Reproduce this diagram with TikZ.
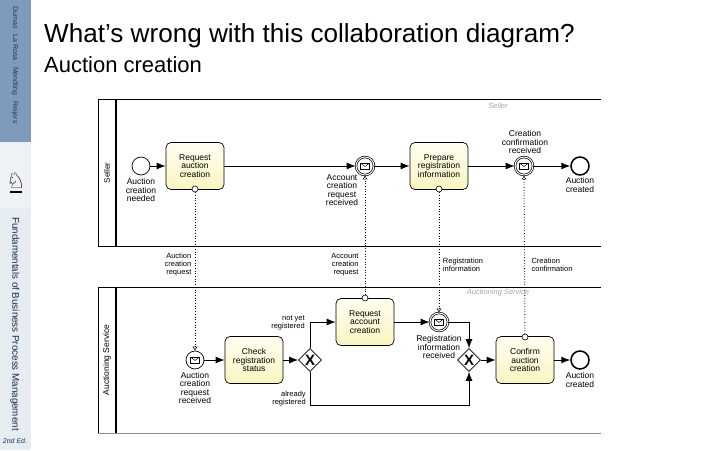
\documentclass[tikz,border=0pt]{standalone}
\usepackage{fontspec}
\setmainfont{Liberation Sans}
\newfontfamily\symfont{DejaVu Sans}
\usetikzlibrary{positioning,arrows.meta,shapes.geometric}
\definecolor{sidebluecol}{HTML}{7F9ABB}
\definecolor{sidepalecol}{HTML}{EEF2F5}
\definecolor{sidelowcol}{HTML}{E6ECF0}
\definecolor{sideinkcol}{HTML}{1F3A5F}
\definecolor{tasktopcol}{HTML}{FFFEF0}
\definecolor{tasklowcol}{HTML}{F8F5C2}
\tikzset{
  lbl/.style={font=\fontsize{8.5}{8.5}\selectfont,align=center,inner sep=0pt},
  smalllbl/.style={font=\fontsize{7.5}{8}\selectfont,align=center,inner sep=0pt},
  greylbl/.style={font=\fontsize{7.5}{8}\selectfont\itshape,text=black!35,inner sep=0pt},
  taskbox/.style={draw,line width=0.7pt,rounded corners=5pt,top color=tasktopcol,bottom color=tasklowcol,minimum width=58pt,minimum height=47pt,inner sep=0pt,align=center,font=\fontsize{8.5}{8.5}\selectfont},
  eventbox/.style={draw,circle,line width=0.7pt,minimum size=18pt,inner sep=0pt,fill=white},
  ringbox/.style={eventbox,double,double distance=1pt},
  endbox/.style={draw,circle,line width=1.5pt,minimum size=18pt,inner sep=0pt,fill=white},
  gatewaybox/.style={draw,diamond,line width=0.6pt,minimum size=23pt,inner sep=0pt,fill=white,font=\fontsize{15}{15}\selectfont\bfseries},
  msgdot/.style={draw,circle,line width=0.6pt,minimum size=6pt,inner sep=0pt,fill=white},
  flow/.style={line width=1pt,-{Latex[length=9pt,width=7pt]}},
  msgflow/.style={line width=0.7pt,dotted,-{Latex[open,length=4pt,width=5pt,line width=0.5pt,sep=0pt]}},
  envmark/.pic={\draw[line width=0.5pt] (-4.5,-3) rectangle (4.5,3); \draw[line width=0.5pt] (-4.5,-3)--(0,0.5)--(4.5,-3);},
}
\begin{document}
\begin{tikzpicture}[x=1pt,y=-1pt]
  \useasboundingbox (0,0) rectangle (720,450);

  % side band
  \fill[sidelowcol] (0,0) rectangle (31,450);
  \fill[sidepalecol] (0,142) rectangle (31,208);
  \fill[sidebluecol] (0,0) rectangle (31,142);
  \node[rotate=-90,text=sideinkcol,font=\fontsize{7}{7}\selectfont] (bookauthors) at (15,65) {Dumas $\cdot$ La Rosa $\cdot$ Mendling $\cdot$ Reijers};
  \node[font=\symfont\fontsize{22}{22}\selectfont,inner sep=0pt] (bookicon) at (16,180) {♘};
  \draw[line width=1.2pt] (10,192)--(22,192);
  \node[rotate=-90,text=sideinkcol!80!black,font=\fontsize{9.8}{10}\selectfont] (booktitle) at (15,324) {Fundamentals of Business Process Management};
  \node[text=sideinkcol,font=\fontsize{7}{7}\selectfont\itshape] (bookedition) at (15,441) {2nd Ed.};

  % title
  \node[anchor=base west,inner sep=0pt,font=\fontsize{26.1}{26}\selectfont] (slidetitle) at (44,42) {What’s wrong with this collaboration diagram?};
  \node[anchor=base west,inner sep=0pt,font=\fontsize{22}{22}\selectfont] (slidesub) at (44,72) {Auction creation};

  % pools
  \draw[line width=0.8pt] (601,99)--(98,99)--(98,246)--(601,246);
  \draw[line width=1.2pt] (116,99)--(116,246);
  \draw[line width=0.8pt] (601,287)--(98,287)--(98,433);
  \draw[line width=0.8pt,black!45] (98,433)--(601,433);
  \draw[line width=1.2pt] (116,287)--(116,433);
  \node[rotate=90,font=\fontsize{8}{8}\selectfont] (sellerpool) at (107,173) {Seller};
  \node[rotate=90,font=\fontsize{8.5}{8.5}\selectfont] (servicepool) at (107,360) {Auctioning Service};
  \node[greylbl] (sellergrey) at (498,106) {Seller};
  \node[greylbl] (servicegrey) at (498,293) {Auctioning Service};

  % Seller
  \node[eventbox] (sellerstart) at (141,166) {};
  \node[taskbox] (requesttask) at (195,166) {Request\\auction\\creation};
  \node[ringbox] (accountevent) at (365,166) {};
  \pic at (accountevent) {envmark};
  \node[taskbox] (preparetask) at (439,166) {Prepare\\registration\\information};
  \node[ringbox] (confirmevent) at (524,166) {};
  \pic at (confirmevent) {envmark};
  \node[endbox] (sellerend) at (580,166) {};
  \node[msgdot] (requestdot) at (195,189) {};
  \node[msgdot] (preparedot) at (439,189) {};
  \draw[flow] (sellerstart)--(requesttask);
  \draw[flow] (requesttask)--(accountevent);
  \draw[flow] (accountevent)--(preparetask);
  \draw[flow] (preparetask)--(confirmevent);
  \draw[flow] (confirmevent)--(sellerend);
  \node[lbl] (neededlbl) at (141,190) {Auction\\creation\\needed};
  \node[lbl] (accountlbl) at (342,190) {Account\\creation\\request\\received};
  \node[lbl] (confirmlbl) at (525,142) {Creation\\confirmation\\received};
  \node[lbl] (createdlbl) at (580,185) {Auction\\created};

  % Auctioning Service
  \node[eventbox] (servicestart) at (195,360) {};
  \pic at (servicestart) {envmark};
  \node[taskbox] (checktask) at (254,360) {Check\\registration\\status};
  \node[gatewaybox] (checkgate) at (310,360) {X};
  \node[taskbox] (accounttask) at (365,322) {Request\\account\\creation};
  \node[ringbox] (regevent) at (439,322) {};
  \pic at (regevent) {envmark};
  \node[gatewaybox] (joingate) at (469,360) {X};
  \node[taskbox] (confirmtask) at (525,360) {Confirm\\auction\\creation};
  \node[endbox] (serviceend) at (580,360) {};
  \node[msgdot] (accountdot) at (365,298) {};
  \node[msgdot] (confirmdot) at (525,337) {};
  \coordinate (bendleft) at (310,405);
  \coordinate (bendright) at (469,405);
  \draw[flow] (servicestart)--(checktask);
  \draw[flow] (checktask)--(checkgate);
  \draw[flow] (checkgate.north) |- (accounttask.west);
  \draw[flow] (accounttask)--(regevent);
  \draw[flow] (regevent) -| (joingate.north);
  \draw[flow] (checkgate.south)--(bendleft)--(bendright)--(joingate.south);
  \draw[flow] (joingate)--(confirmtask);
  \draw[flow] (confirmtask)--(serviceend);
  \node[lbl] (receivedlbl) at (195,388) {Auction\\creation\\request\\received};
  \node[smalllbl,align=right] (notyetlbl) at (288,323) {not yet\\registered};
  \node[smalllbl,align=right] (alreadylbl) at (289,399) {already\\registered};
  \node[lbl] (reglbl) at (439,347) {Registration\\information\\received};
  \node[lbl] (servicecreatedlbl) at (580,380) {Auction\\created};

  % message flows
  \draw[msgflow] (requestdot)--(servicestart);
  \draw[msgflow] (accountdot)--(accountevent);
  \draw[msgflow] (preparedot)--(regevent);
  \draw[msgflow,line width=1pt] (confirmdot)--(confirmevent);
  \node[smalllbl,align=right] (msgauction) at (178,265) {Auction\\creation\\request};
  \node[smalllbl,align=right] (msgaccount) at (345,265) {Account\\creation\\request};
  \node[smalllbl,align=left] (msgreg) at (463,265) {Registration\\information};
  \node[smalllbl,align=left] (msgconfirm) at (552,265) {Creation\\confirmation};
\end{tikzpicture}
\end{document}
